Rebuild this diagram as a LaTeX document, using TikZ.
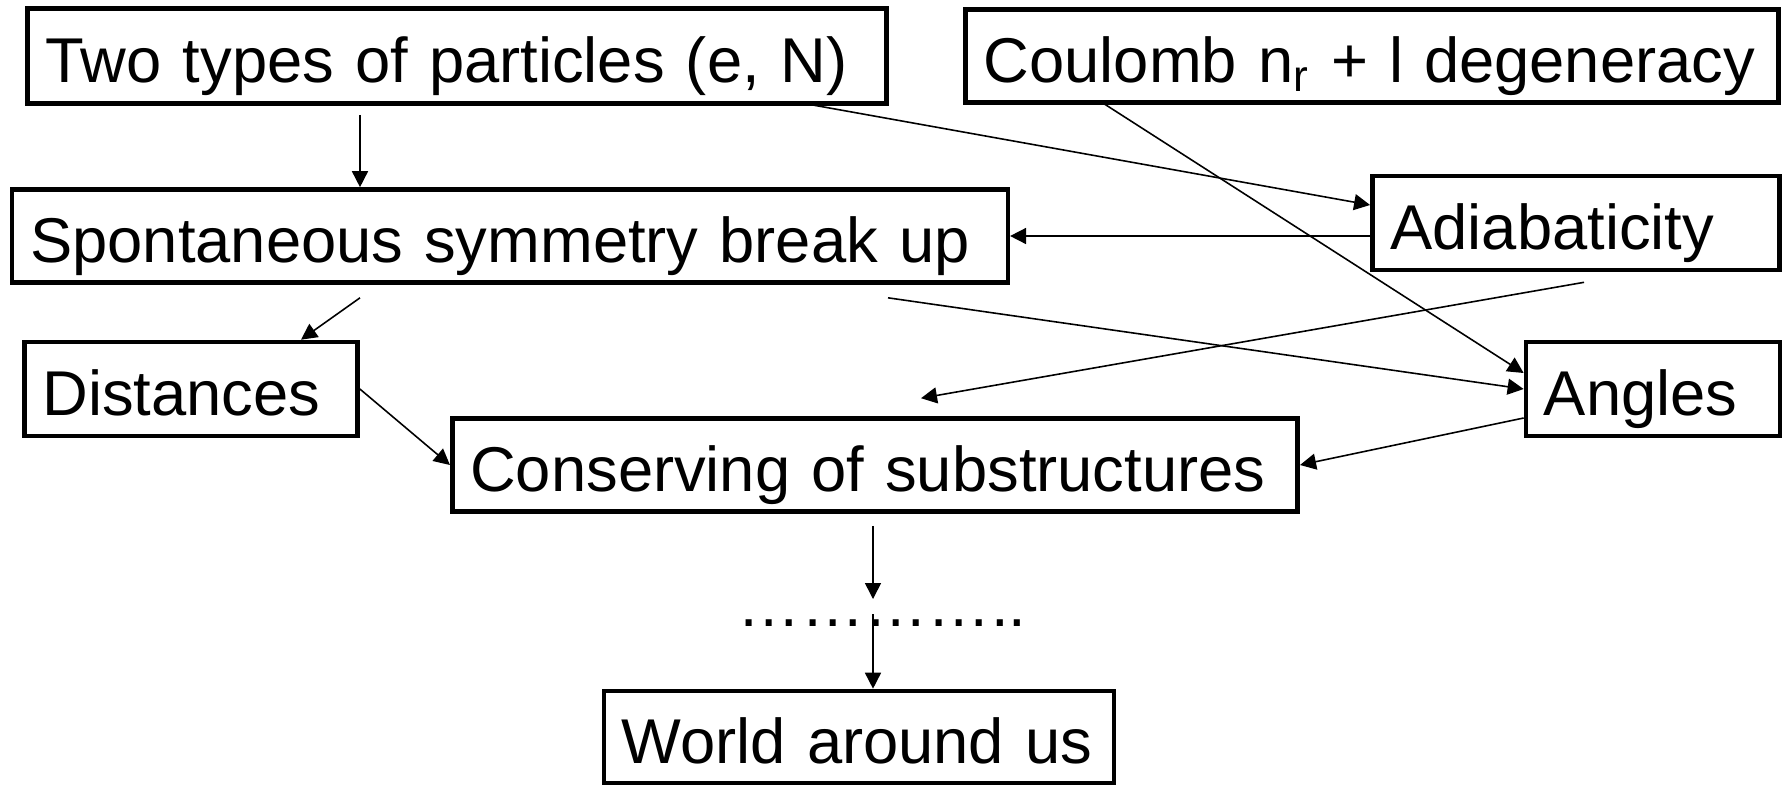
\documentclass[tikz,border=0pt]{standalone}
\usepackage{fontspec}
\setmainfont{Liberation Sans}
\usetikzlibrary{positioning, calc, arrows.meta}
\tikzset{>={Triangle[length=0.16cm, width=0.16cm]}}

\begin{document}
\begin{tikzpicture}
    [x=0.01cm, y=-0.01cm,
     my box/.style={draw, line width=1.3pt, inner xsep=0.18cm, inner ysep=0pt,
       text height=20.5pt, text depth=5.5pt,
       align=left, font=\fontsize{18}{21}\selectfont},
     my arrow/.style={->, line width=0.45pt}]
    \useasboundingbox (0,0) rectangle (1787,784);

    \node[my box, text width=8.22cm, minimum height=0.95cm] (two) at (457,56)
      {Two types of particles (e, N)};
    \node[my box, text width=7.76cm, minimum height=0.93cm] (coul) at (1372,56)
      {Coulomb n\textsubscript{r} + l degeneracy};
    \node[my box, text width=9.59cm, minimum height=0.93cm] (spont) at (510,236)
      {Spontaneous symmetry break up};
    \node[my box, text width=3.71cm, minimum height=0.94cm] (adi) at (1576,223)
      {Adiabaticity};
    \node[my box, text width=2.97cm, minimum height=0.94cm] (dist) at (191,389)
      {Distances};
    \node[my box, text width=2.18cm, minimum height=0.94cm] (ang) at (1653,389)
      {Angles};
    \node[my box, text width=8.09cm, minimum height=0.93cm] (cons) at (875,465)
      {Conserving of substructures};
    \node[font=\fontsize{18}{21}\selectfont, inner sep=0pt] (dots) at (882,623)
      {…………..};
    \node[my box, text width=4.74cm, minimum height=0.92cm] (world) at (859,737)
      {World around us};

    \draw[my arrow] ($(two.south)+(-97,9)$) -- ($(spont.north)+(-150,0)$);
    \draw[my arrow] ($(two.south east)+(-88,-3)$) -- ($(adi.west)+(0,-18)$);
    \draw[my arrow] (adi.west |- spont.east) -- (spont.east);
    \draw[my arrow] ($(coul.south)+(-271,-3)$) -- ($(ang.west)+(0,-16)$);
    \draw[my arrow] ($(spont.south)+(-150,13)$) -- ($(dist.north)+(110,0)$);
    \draw[my arrow] ($(spont.south)+(378,13)$) -- (ang.west);
    \draw[my arrow] ($(adi.south)+(8,10)$) -- ($(cons.north)+(46,-18)$);
    \draw[my arrow] (dist.east) -- (cons.west);
    \draw[my arrow] ($(ang.west)+(0,29)$) -- (cons.east);
    \draw[my arrow] ($(cons.south)+(-2,12)$) -- ($(dots.center)+(-9,-24)$);
    \draw[my arrow] ($(dots.center)+(-9,-9)$) -- ($(world.north)+(14,0)$);
\end{tikzpicture}
\end{document}
